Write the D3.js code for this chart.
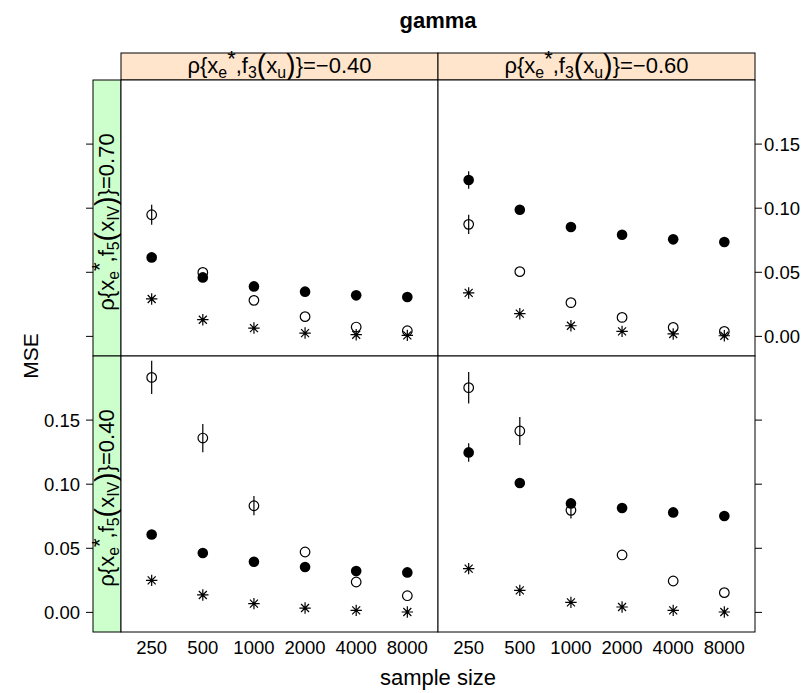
<!DOCTYPE html>
<html><head><meta charset="utf-8">
<script src="https://cdn.jsdelivr.net/npm/d3@7"></script>
<style>body{margin:0;background:#fff}svg{display:block}text{font-family:"Liberation Sans",Arial,sans-serif}</style>
</head><body>
<svg id="c" width="804" height="693"></svg>
<script>
// ---- data ----
const sampleSizes = ["250","500","1000","2000","4000","8000"];
const colLabels = ["-0.40","-0.60"];
const rowLabels = ["0.70","0.40"];
const yTicks = [0.00,0.05,0.10,0.15];

// row 0.70 / col -0.40
const filled_70_40 = [0.0616,0.0460,0.0390,0.0349,0.0320,0.0307];
const open_70_40   = [0.0949,0.0499,0.0281,0.0154,0.0073,0.0044];
const star_70_40   = [0.0292,0.0130,0.0065,0.0026,0.0013,0.0008];
const errF_70_40 = [0.0025,0.0012,0.0008,0.0005,0.0004,0.0003];
const errO_70_40 = [0.0078,0,0,0,0,0];
// row 0.70 / col -0.60
const filled_70_60 = [0.1220,0.0988,0.0853,0.0793,0.0757,0.0736];
const open_70_60   = [0.0874,0.0505,0.0263,0.0148,0.0070,0.0039];
const star_70_60   = [0.0339,0.0177,0.0083,0.0039,0.0019,0.0005];
const errF_70_60 = [0.0069,0.0012,0.0008,0.0005,0.0004,0.0003];
const errO_70_60 = [0.0075,0,0,0,0,0];
// row 0.40 / col -0.40
const filled_40_40 = [0.0608,0.0463,0.0395,0.0354,0.0323,0.0312];
const open_40_40   = [0.1833,0.1360,0.0832,0.0471,0.0237,0.0130];
const star_40_40   = [0.0250,0.0136,0.0068,0.0034,0.0016,0.0003];
const errF_40_40 = [0.0025,0.0012,0.0008,0.0005,0.0004,0.0003];
const errO_40_40 = [0.0130,0.0110,0.0075,0,0,0];
// row 0.40 / col -0.60
const filled_40_60 = [0.1248,0.1009,0.0850,0.0814,0.0780,0.0752];
const open_40_60   = [0.1753,0.1415,0.0796,0.0448,0.0245,0.0154];
const star_40_60   = [0.0341,0.0172,0.0078,0.0042,0.0016,0.0003];
const errF_40_60 = [0.0072,0.0025,0.0008,0.0005,0.0004,0.0003];
const errO_40_60 = [0.0123,0.0110,0.0063,0,0,0];

const panels = [
  {r:0,c:0,f:filled_70_40,o:open_70_40,s:star_70_40,ef:errF_70_40,eo:errO_70_40},
  {r:0,c:1,f:filled_70_60,o:open_70_60,s:star_70_60,ef:errF_70_60,eo:errO_70_60},
  {r:1,c:0,f:filled_40_40,o:open_40_40,s:star_40_40,ef:errF_40_40,eo:errO_40_40},
  {r:1,c:1,f:filled_40_60,o:open_40_60,s:star_40_60,ef:errF_40_60,eo:errO_40_60}
];

// ---- layout ----
const svg = d3.select("#c");
const colX = [121, 438], panelW = 317;
const rowY = [80, 356], panelH = 276;
const stripTop = 53;
const leftStripX = 93;

const x = d3.scalePoint().domain(sampleSizes).range([0, panelW]).padding(0.6);
const y = d3.scaleLinear().domain([-0.0153, 0.2]).range([panelH, 0]);

// title
svg.append("text").attr("x",438).attr("y",28).attr("text-anchor","middle")
  .attr("font-size",22).attr("font-weight","bold").text("gamma");

function mathLabel(t, sub1, val) {
  t.append("tspan").text("ρ{x");
  t.append("tspan").attr("font-size","72%").attr("dy",5).text("e");
  t.append("tspan").attr("dy",-12).text("*");
  t.append("tspan").attr("dy",7).text(",f");
  t.append("tspan").attr("font-size","72%").attr("dy",5).text(sub1[0]);
  t.append("tspan").attr("dy",-3).attr("font-size","130%").text("(");
  t.append("tspan").attr("dy",-2).text("x");
  t.append("tspan").attr("font-size","72%").attr("dy",5).text(sub1[1]);
  t.append("tspan").attr("dy",-3).attr("font-size","130%").text(")");
  t.append("tspan").attr("dy",-2).text("}=" + val.replace("-","−"));
}

// top strips
colLabels.forEach((lab,i)=>{
  svg.append("rect").attr("x",colX[i]).attr("y",stripTop).attr("width",panelW).attr("height",rowY[0]-stripTop)
    .attr("fill","#ffe5cc").attr("stroke","#000").attr("stroke-width",1);
  const t = svg.append("text").attr("x",colX[i]+panelW/2).attr("y",rowY[0]-7)
    .attr("text-anchor","middle").attr("font-size",22);
  mathLabel(t, ["3","u"], lab);
});
// left strips
rowLabels.forEach((lab,i)=>{
  svg.append("rect").attr("x",leftStripX).attr("y",rowY[i]).attr("width",colX[0]-leftStripX).attr("height",panelH)
    .attr("fill","#ccffcc").attr("stroke","#000").attr("stroke-width",1);
  const t = svg.append("text").attr("transform",`translate(${colX[0]-7},${rowY[i]+panelH/2+4}) rotate(-90)`)
    .attr("text-anchor","middle").attr("font-size",22);
  mathLabel(t, ["5","IV"], lab);
});

// panels
panels.forEach(p=>{
  const g = svg.append("g").attr("transform",`translate(${colX[p.c]},${rowY[p.r]})`);
  g.append("rect").attr("width",panelW).attr("height",panelH).attr("fill","#fff").attr("stroke","none");
  const bars = (vals, errs) => vals.forEach((v,i)=>{
    if (!errs[i]) return;
    g.append("line").attr("x1",x(sampleSizes[i])).attr("x2",x(sampleSizes[i]))
      .attr("y1",y(v-errs[i])).attr("y2",y(v+errs[i])).attr("stroke","#000").attr("stroke-width",1.2);
  });
  bars(p.f, p.ef); bars(p.o, p.eo);
  p.s.forEach((v,i)=>{
    const cx = x(sampleSizes[i]), cy = y(v), r = 5.7, d = 4.0;
    const path = `M${cx-r},${cy}H${cx+r}M${cx},${cy-r}V${cy+r}M${cx-d},${cy-d}L${cx+d},${cy+d}M${cx-d},${cy+d}L${cx+d},${cy-d}`;
    g.append("path").attr("d",path).attr("stroke","#000").attr("stroke-width",1.2).attr("fill","none");
  });
  g.selectAll(null).data(p.o).enter().append("circle")
    .attr("cx",(d,i)=>x(sampleSizes[i])).attr("cy",d=>y(d)).attr("r",4.8)
    .attr("fill","none").attr("stroke","#000").attr("stroke-width",1.2);
  g.selectAll(null).data(p.f).enter().append("circle")
    .attr("cx",(d,i)=>x(sampleSizes[i])).attr("cy",d=>y(d)).attr("r",5.3)
    .attr("fill","#000");
  g.append("rect").attr("width",panelW).attr("height",panelH).attr("fill","none").attr("stroke","#000").attr("stroke-width",1);
});

// y axes
[0,1].forEach(r=>{
  const gl = svg.append("g").attr("transform",`translate(${leftStripX},${rowY[r]})`);
  yTicks.forEach(t=>{
    gl.append("line").attr("x1",-7).attr("x2",0).attr("y1",y(t)).attr("y2",y(t)).attr("stroke","#000");
    if (r===1) gl.append("text").attr("x",-13).attr("y",y(t)).attr("dy","0.36em").attr("text-anchor","end")
      .attr("font-size",18.5).text(d3.format(".2f")(t));
  });
  const gr = svg.append("g").attr("transform",`translate(${colX[1]+panelW},${rowY[r]})`);
  yTicks.forEach(t=>{
    gr.append("line").attr("x1",0).attr("x2",7).attr("y1",y(t)).attr("y2",y(t)).attr("stroke","#000");
    if (r===0) gr.append("text").attr("x",9).attr("y",y(t)).attr("dy","0.36em").attr("text-anchor","start")
      .attr("font-size",18.5).text(d3.format(".2f")(t));
  });
});

// x tick labels
colX.forEach(cx=>{
  sampleSizes.forEach(s=>{
    svg.append("text").attr("x",cx+x(s)).attr("y",rowY[1]+panelH+15).attr("dy","0.36em")
      .attr("text-anchor","middle").attr("font-size",18.5).text(s);
  });
});

// axis titles
svg.append("text").attr("x",438).attr("y",685).attr("text-anchor","middle").attr("font-size",22).text("sample size");
svg.append("text").attr("transform",`translate(38,${rowY[1]})rotate(-90)`).attr("text-anchor","middle").attr("font-size",21).text("MSE");
</script>
</body></html>
